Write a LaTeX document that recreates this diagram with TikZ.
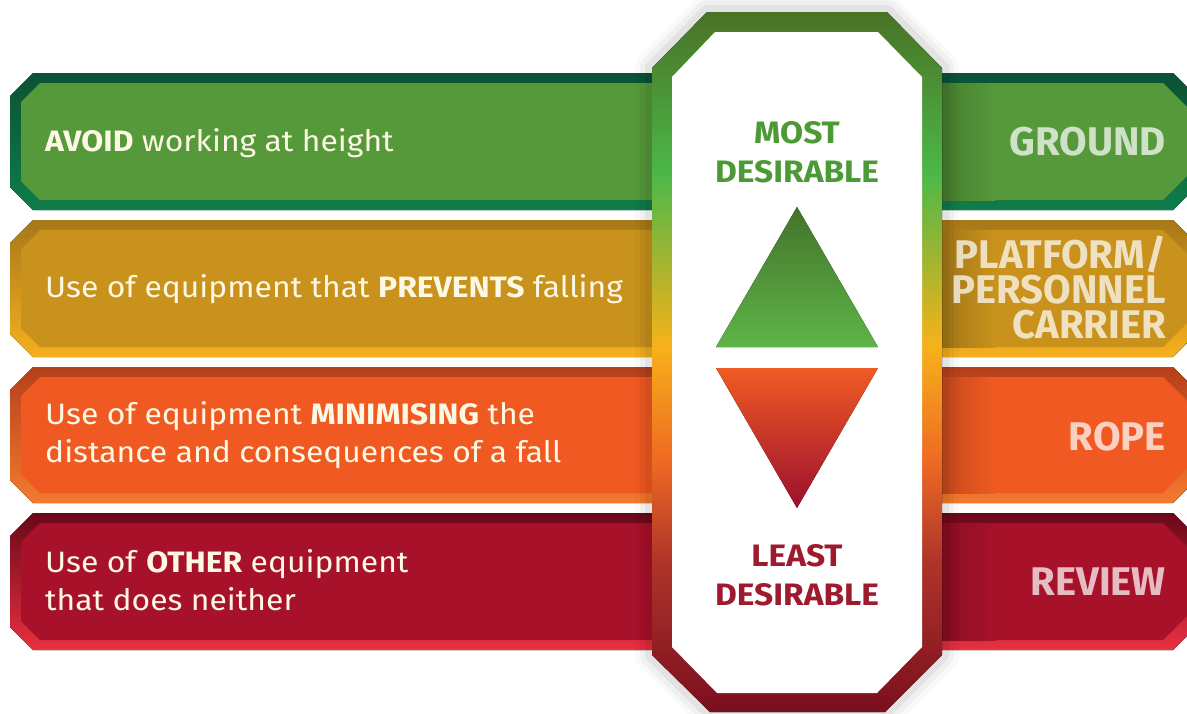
\documentclass[tikz,border=0pt]{standalone}
\usepackage{fontspec}
\setmainfont{Fira Sans}
\newfontfamily\widefont[FakeStretch=1.08]{Fira Sans}
\definecolor{txtcream}{HTML}{FDF8E4}
\definecolor{mostgreen}{HTML}{4C9A36}
\definecolor{leastred}{HTML}{9E1A2E}
\definecolor{gTop}{HTML}{0B5236}\definecolor{gBot}{HTML}{0E7D4A}\definecolor{gFill}{HTML}{56993A}
\definecolor{yTop}{HTML}{A87818}\definecolor{yBot}{HTML}{F5B01E}\definecolor{yFill}{HTML}{C8921C}
\definecolor{oTop}{HTML}{B5401A}\definecolor{oBot}{HTML}{F37A2E}\definecolor{oFill}{HTML}{F05A22}
\definecolor{rTop}{HTML}{6A0818}\definecolor{rBot}{HTML}{E83040}\definecolor{rFill}{HTML}{A8112A}
\definecolor{oc1}{HTML}{7A0F1E}
\definecolor{oc2}{HTML}{B0352A}
\definecolor{oc3}{HTML}{EF6A23}
\definecolor{oc4}{HTML}{F6B21A}
\definecolor{oc5}{HTML}{4CB848}
\definecolor{oc6}{HTML}{4A7226}
\definecolor{triGtop}{HTML}{44732A}
\definecolor{triGbot}{HTML}{5DB548}
\definecolor{triRtop}{HTML}{F05B24}
\definecolor{triRmid}{HTML}{E62A3C}
\definecolor{triRbot}{HTML}{9C0F2E}
\pgfdeclareverticalshading{octgrad}{100bp}{color(0bp)=(oc1); color(25bp)=(oc1); color(35.9bp)=(oc2); color(43bp)=(oc3); color(51.2bp)=(oc4); color(63.4bp)=(oc5); color(75bp)=(oc6); color(100bp)=(oc6)}
\newcommand\drawband[5]{%
  \fill[top color=#3, bottom color=#4] (33,#1) -- (1173,#1) -- (1198,#1+25) -- (1198,#2-25) -- (1173,#2) -- (33,#2) -- (10,#2-23) -- (10,#1+23) -- cycle;
  \fill[#5] (40,#1+10) -- (1163,#1+10) -- (1188,#1+35) -- (1188,#2-35) -- (1163,#2-10) -- (40,#2-10) -- (21,#2-29) -- (21,#1+29) -- cycle;
  \fill[left color=#5!82!black, right color=#5] (942,#1+10) rectangle (995,#2-10);
}
\begin{document}
\begin{tikzpicture}[x=1pt,y=-1pt,
  lefttext/.style={anchor=base west, text=txtcream, font=\widefont\fontsize{29.5}{37.5}\selectfont, align=left, inner sep=0pt},
  righttext/.style={anchor=base east, text=white, text opacity=0.72, font=\fontsize{40}{35}\bfseries\selectfont, align=right, inner sep=0pt},
  ctext/.style={anchor=base, align=center, font=\widefont\fontsize{31}{39}\bfseries\selectfont, inner sep=0pt}]
\useasboundingbox (0,0) rectangle (1187,713);
\fill[white] (0,0) rectangle (1187,713);
% bands
\drawband{73}{210}{gTop}{gBot}{gFill}
\drawband{220}{357}{yTop}{yBot}{yFill}
\drawband{367}{503}{oTop}{oBot}{oFill}
\drawband{513}{650}{rTop}{rBot}{rFill}
% octagon halo
\foreach \w/\o in {34/0.025, 24/0.035, 14/0.05}{
  \draw[line width=\w pt, black, opacity=\o, line join=round] (707,12) -- (887,12) -- (942,68) -- (942,655) -- (885,712) -- (710,712) -- (652,655) -- (652,68) -- cycle;
}
% octagon
\fill[shading=octgrad] (707,12) -- (887,12) -- (942,68) -- (942,655) -- (885,712) -- (710,712) -- (652,655) -- (652,68) -- cycle;
\fill[white] (715,32) -- (878,32) -- (922,77) -- (922,647) -- (877,693) -- (717,693) -- (672,647) -- (672,77) -- cycle;
% triangles
\fill[top color=triGtop, bottom color=triGbot] (797,207) -- (878,347) -- (716,347) -- cycle;
\fill[top color=triRtop, middle color=triRmid, bottom color=triRbot] (716,368) -- (878,368) -- (797,508) -- cycle;
% left texts
\node[lefttext] (t1) at (45,151) {\textbf{AVOID} working at height};
\node[lefttext] (t2) at (45,297) {Use of equipment that \textbf{PREVENTS} falling};
\node[lefttext] (t3) at (45,462) {Use of equipment \textbf{MINIMISING} the\\distance and consequences of a fall};
\node[lefttext] (t4) at (45,610) {Use of \textbf{OTHER} equipment\\that does neither};
% right texts
\node[righttext] (r1) at (1166,155) {GROUND};
\node[righttext] (r2) at (1166,338) {PLATFORM/\\PERSONNEL\\CARRIER};
\node[righttext] (r3) at (1166,450) {ROPE};
\node[righttext] (r4) at (1166,595) {REVIEW};
% centre texts
\node[ctext, text=mostgreen] (most) at (797,182) {MOST\\DESIRABLE};
\node[ctext, text=leastred] (least) at (797,605) {LEAST\\DESIRABLE};
\end{tikzpicture}
\end{document}
